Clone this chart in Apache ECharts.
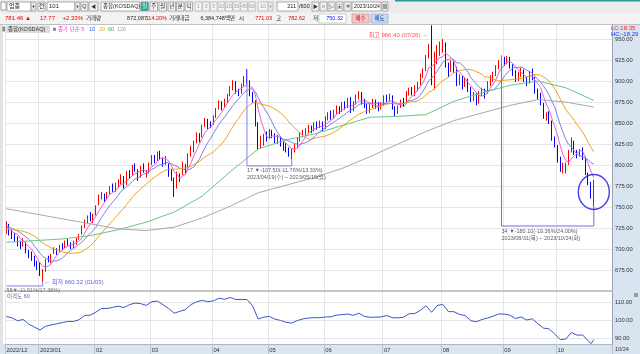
<!DOCTYPE html>
<html lang="ko">
<head>
<meta charset="utf-8">
<title>KOSDAQ</title>
<script src="https://cdn.jsdelivr.net/npm/echarts@6.0.0/dist/echarts.min.js"></script>
<style>
html,body{margin:0;padding:0;background:#ffffff;overflow:hidden;}
#chart{width:640px;height:354px;}
</style>
</head>
<body>
<div id="chart"></div>
<script>
// ---- trading days shown (211 candles) ----
const dec2022 = [14,15,16,19,20,21,22,23,26,27,28,29];
const jan2023 = [2,3,4,5,6,9,10,11,12,13,16,17,18,19,20,25,26,27,30,31];
const feb2023 = [1,2,3,6,7,8,9,10,13,14,15,16,17,20,21,22,23,24,27,28];
const mar2023 = [2,3,6,7,8,9,10,13,14,15,16,17,20,21,22,23,24,27,28,29,30,31];
const apr2023 = [3,4,5,6,7,10,11,12,13,14,17,18,19,20,21,24,25,26,27,28];
const may2023 = [2,3,4,8,9,10,11,12,15,16,17,18,19,22,23,24,25,26,30,31];
const jun2023 = [1,2,5,7,8,9,12,13,14,15,16,19,20,21,22,23,26,27,28,29,30];
const jul2023 = [3,4,5,6,7,10,11,12,13,14,17,18,19,20,21,24,25,26,27,28,31];
const aug2023 = [1,2,3,4,7,8,9,10,11,14,16,17,18,21,22,23,24,25,28,29,30,31];
const sep2023 = [1,4,5,6,7,8,11,12,13,14,15,18,19,20,21,22,25,26,27];
const oct2023 = [4,5,6,10,11,12,13,16,17,18,19,20,23,24];
const monthLabels = ['2022/12','2023/01','02','03','04','05','06','07','08','09','10'];
const lastDateLabel = '10/24';

// ---- OHLC ----
const open = [
721,728,719,716,713,706,706,708,697,694,690,682,
681,670,675,689,686,695,699,698,704,703,709,706,703,707,713,719,727,734,740,734,
742,753,763,763,761,767,774,771,776,780,784,777,790,789,799,793,786,798,790,793,
803,809,808,814,806,804,800,792,783,775,787,789,798,798,813,818,828,833,835,848,852,849,
850,858,868,873,870,879,884,893,897,889,888,896,906,899,884,875,848,827,828,836,
834,839,835,829,831,825,823,818,813,818,823,831,836,840,841,844,842,849,847,849,
845,857,862,859,864,867,866,873,871,878,867,875,882,884,876,870,866,871,875,872,869,
873,881,880,881,866,865,870,876,875,887,889,886,891,898,907,914,930,945,898,926,937,
940,943,918,916,920,915,899,903,896,900,890,880,882,876,886,888,886,898,903,909,917,923,
925,924,927,918,910,905,909,911,902,899,911,903,888,883,872,857,861,851,831,
820,806,795,796,803,818,826,813,813,817,808,789,777,771.03];
const close = [
730,720,717,713,706,705,711,698,693,692,682,679,
671.5,673.8,686,688,692,699,697,703,702,708,707,703,708,712,716,726,733,738,735,740,
749,762,765,760,766,773,772,776,779,786,775,791,788,798,797,784,797,795,791,800,
809,806,814,810,802,808,789,787,772,790,784,802,795,812,820,826,836,832,846,853,847,848,
857,866,875,869,877,882,891,898,888,886,894,904,900,885,878,850,824,830,834,833,
840,836,830,832,826,822,819,814,817,822,830,836,839,841,845,842,848,845,850,843,
855,860,858,863,868,865,872,870,877,866,873,881,885,876,872,865,870,876,871,868,872,
880,879,882,869,864,868,876,872,886,889,887,890,896,906,912,928,939,900,925,936,939,
945,920,914,921,916,898,905,895,902,892,879,883,875,885,889,883,898,904,908,916,922,926,
923,927,919,911,903,908,912,903,898,910,905,889,882,875,858,860,853,832,826,
808,796,799,798,815,828,815,812,816,810,791,779,763.69,781.46];
const low = [
718,716,712,709,703,700,703,695,689,686,679,675,
668,660.32,673,684,683,694,693,696,699,701,704,700,701,705,711,717,725,731,733,731,
740,752,759,756,759,765,768,768,773,777,772,776,784,787,792,781,785,791,785,790,
800,802,805,806,798,800,786,781,762,772,780,788,790,796,810,815,826,827,833,845,843,844,
848,856,866,865,868,874,882,889,885,882,885,894,896,882,874,846,818,820,823,828,
831,832,826,825,822,817,815,810,806.6,815,820,828,833,835,838,838,840,842,844,840,
843,853,854,855,861,861,863,866,868,862,864,872,878,872,868,861,862,868,867,864,866,
871,875,876,866,858,861,868,869,874,883,883,882,888,895,904,912,927,895,890,920,930,
934,916,905,911,910,894,895,890,893,887,875,876,871,873,882,879,885,894,899,906,914,919,
918,920,915,906,899,900,905,899,894,897,901,885,878,871,855,853,849,829,821,
803,792,790,790,800,815,812,808,810,806,788,776,760,750.32];
const high = [
733,730,723,719,715,710,713,709,699,697,692,686,
684,676,688,692,694,702,701,705,707,710,712,708,710,714,718,728,735,740,744,742,
752,765,768,766,768,775,778,779,783,789,787,793,794,800,802,795,799,802,794,803,
812,812,816,817,809,811,802,795,785,792,790,804,801,814,823,829,839,838,848,856,855,852,
859,868,877,876,879,885,894,901,900,891,897,906,914.1,901,887,877,851,835,837,840,
843,842,838,836,834,828,826,821,820,825,833,839,842,844,848,847,851,852,853,852,
858,863,865,866,871,870,875,876,880,881,876,884,888,887,879,873,873,879,878,875,875,
883,884,885,883,870,871,878,880,888,892,893,895,899,909,915,931,944,966.4,935,943,947,
950,946,922,925,924,917,908,906,905,903,893,887,886,888,892,891,900,907,911,919,925,930.42,
929,930,929,920,913,911,916,914,905,912,915,905,891,886,874,863,864,853,834,
824,810,803,803,818,833,829,818,819,821,810,791,780,782.62];

// ---- moving-average lines (one value per candle) ----
const ma5 = [
727,724,721,719,717.2,712.2,710.4,706.6,702.6,699.8,
695.2,688.8,683.5,679.7,678.5,679.7,682.3,687.8,692.4,695.8,
698.6,701.8,703.4,704.6,705.6,707.6,709.2,713,719,725,
729.6,734.4,739,744.8,750.2,755.2,760.4,765.2,767.2,769.4,
773.2,777.2,777.6,781.4,783.8,787.6,789.8,791.6,792.8,794.2,
792.8,793.4,798.4,800.2,804,807.8,808.2,808,804.6,799.2,
791.6,789.2,784.4,787,788.6,796.6,802.6,811,817.8,825.2,
832,838.6,842.8,845.2,850.2,854.2,858.6,863,868.8,873.8,
878.8,883.4,887.2,889,891.4,894,894.4,893.8,892.2,883.4,
867.4,853.4,843.2,834.2,832.2,834.6,834.6,834.2,832.8,829.2,
825.8,822.6,819.6,818.8,820.4,823.8,828.8,833.6,838.2,840.6,
843,844.2,846,845.6,848.2,850.6,853.2,855.8,860.8,862.8,
865.2,867.6,870.4,870,871.6,873.4,876.4,876.2,877.4,875.8,
873.6,871.8,870.8,870,871.4,873.4,874,876.2,876.4,874.8,
872.4,871.8,869.8,873.2,878.2,882,884.8,889.6,893.6,898.2,
906.4,916.2,917,920.8,925.6,927.8,929,933,930.8,927.8,
923.2,913.8,910.8,907,903.2,898.4,894.6,890.2,886.2,882.8,
882.2,883,886,891.8,896.4,901.8,909.6,915.2,919,922.8,
923.4,921.2,916.6,913.6,910.6,907.4,904.8,906.2,905.6,901,
896.8,892.2,881.8,872.8,865.6,855.6,845.8,835.8,823,812.2,
805.4,803.2,807.2,811,813.6,817.2,816.2,808.8,801.6,791.9,785];
const ma10 = [
727,726,724.5,723,721.5,719.5,717,714.5,711.5,708.5,
703.7,699.6,695.1,691.2,689.2,687.5,685.6,685.7,686.1,687.2,
689.2,692.1,695.6,698.5,700.7,703.1,705.5,708.2,711.8,715.3,
718.6,721.8,726,731.9,737.6,742.4,747.4,752.1,756,759.8,
764.2,768.8,771.4,774.3,776.6,780.4,783.5,784.6,787.1,789,
790.2,791.6,795,796.5,799.1,800.3,800.8,803.2,802.4,801.6,
799.7,798.7,796.2,795.8,793.9,794.1,795.9,797.7,802.4,806.9,
814.3,820.6,826.9,831.5,837.7,843.1,848.6,852.9,857,862,
866.5,871,875.1,878.9,882.6,886.4,888.9,890.5,890.6,887.4,
880.7,873.9,868.5,863.2,857.8,851,844,838.7,833.5,830.7,
830.2,828.6,826.9,825.8,824.8,824.8,825.7,826.6,828.5,830.5,
833.4,836.5,839.8,841.9,844.4,846.8,848.7,850.9,853.2,855.5,
857.9,860.4,863.1,865.4,867.2,869.3,872,873.3,873.7,873.7,
873.5,874.1,873.5,873.7,873.6,873.5,872.9,873.5,873.2,873.1,
872.9,872.9,873,874.8,876.5,877.2,878.3,879.7,883.4,888.2,
894.2,900.5,903.3,907.2,911.9,917.1,922.6,925,925.8,926.7,
925.5,921.4,921.9,918.9,915.5,910.8,904.2,900.5,896.6,893,
890.3,888.8,888.1,889,889.6,892,896.3,900.6,905.4,909.6,
912.6,915.4,915.9,916.3,916.7,915.4,913,911.4,909.6,905.8,
902.1,898.5,894,889.2,883.3,876.2,869,858.8,847.9,838.9,
830.5,824.5,821.5,817,812.9,811.3,809.7,808,806.3,802.8,801.1];
const ma20 = [
724,723.6,723.2,722.8,722.4,722,721,720,718.8,717.3,
715.4,712.8,709.8,707.1,705.4,703.5,701.3,700.1,698.8,697.9,
696.5,695.9,695.4,694.9,695,695.3,695.6,697,699,701.3,
703.9,707,710.8,715.2,719.2,722.8,726.5,730.2,733.9,737.6,
741.4,745.3,748.7,753.1,757.1,761.4,765.5,768.4,771.6,774.4,
777.2,780.2,783.2,785.4,787.9,790.4,792.2,793.9,794.8,795.3,
795,795.2,795.6,796.2,796.5,797.2,798.4,800.5,802.4,804.3,
807,809.7,811.6,813.7,815.8,818.6,822.3,825.3,829.7,834.5,
840.4,845.8,851,855.2,860.2,864.8,868.8,871.7,873.8,874.7,
873.6,872.5,871.8,871.1,870.2,868.7,866.5,864.6,862.1,859.1,
855.5,851.3,847.7,844.5,841.3,837.9,834.9,832.7,831,830.6,
831.8,832.6,833.4,833.9,834.6,835.8,837.2,838.8,840.9,843,
845.7,848.5,851.5,853.7,855.8,858.1,860.4,862.1,863.5,864.6,
865.7,867.3,868.3,869.6,870.4,871.4,872.5,873.4,873.5,873.4,
873.2,873.5,873.3,874.3,875.1,875.4,875.6,876.6,878.3,880.7,
883.6,886.7,888.2,891,894.2,897.2,900.5,902.4,904.6,907.5,
909.9,911,912.6,913.1,913.7,914,913.4,912.8,911.2,909.9,
907.9,905.1,905,904,902.6,901.4,900.3,900.6,901,901.3,
901.5,902.1,902,902.7,903.2,903.7,904.7,906,907.5,907.7,
907.4,907,905,902.8,900,895.8,891,885.1,878.8,872.4,
866.3,861.5,857.8,853.1,848.1,843.8,839.4,833.4,827.1,820.9,815.8];
// slower averages, read at intervals: [candle index, value]
const ma60 = [[0,708],[10,710],[20,712],[30,716],[40,723],[50,732],[60,744],[70,763],[80,792],[90,819],[100,830],[110,837],[120,847],[130,857],[140,858],[150,860],[160,876],[170,886],[180,895],[190,900],[200,892],[210,877]];
const ma120 = [[0,748],[10,742],[20,736],[30,730],[40,724],[50,722],[60,726],[70,737],[80,751],[90,767],[100,776],[110,785],[120,796],[130,810],[140,825],[150,840],[160,853],[170,862],[180,871],[190,878],[200,875],[210,869]];
// ---- 이격도 60 (disparity), read every other candle ----
const disparity60 = [[0,102],[2,101.2],[4,99.6],[6,100.3],[8,97.7],[10,96.1],[12,94.5],[14,96.5],[16,97.3],[18,97.9],[20,98.6],[22,99.2],[24,99.2],[26,100.2],[28,102.5],[30,102.7],[32,104.4],[34,106.4],[36,106.4],[38,107],[40,107.7],[42,106.9],[44,108.5],[46,109.4],[48,109.1],[50,108.1],[52,110.2],[54,110.5],[56,108.5],[58,106.4],[60,103.8],[62,104.8],[64,105.8],[66,108.6],[68,110.1],[70,110.9],[72,110.2],[74,110.6],[76,112.1],[78,111.5],[80,112.5],[82,111.4],[84,111.4],[86,111.4],[88,107.9],[90,100.6],[92,101.6],[94,102],[96,100.5],[98,99.8],[100,98.7],[102,98.3],[104,99.7],[106,100.6],[108,101.1],[110,101.3],[112,101.3],[114,101.7],[116,101.8],[118,102.7],[120,103],[122,103.3],[124,102.6],[126,103.8],[128,102],[130,101.5],[132,101.6],[134,101.7],[136,102.5],[138,101.3],[140,101.2],[142,101.6],[144,103.5],[146,103.6],[148,105.4],[150,107.9],[152,104.3],[154,108],[156,108.7],[158,104.7],[160,104.6],[162,103.1],[164,102.5],[166,99.7],[168,99],[170,100.3],[172,101.1],[174,102.1],[176,103.4],[178,103.3],[180,102.7],[182,100.8],[184,101.7],[186,100],[188,100.7],[190,98],[192,95.5],[194,95.1],[196,92.3],[198,89.1],[200,89.5],[202,93.1],[204,91.6],[206,91.7],[208,88.5],[209,86.9],[210,89.1]];

// ---- measurement brackets ----
const bracket0 = [[0,656],[13,656],[13,660.32]];
const bracket1 = [[86,914.1],[86,799],[102,799],[102,806.6]];
const bracket2 = [[177,930.42],[177,727.4],[210,727.4],[210,750.32]];
const bracketText0 = '58▼-11.51%/17.36%)';
const bracketText1 = '17 ▼-107.50(-11.76%/13.33%)\n2023/04/19(수) ~ 2023/05/15(월)';
const bracketText2 = '34 ▼-180.10(-19.36%/24.00%)\n2023/08/31(목) ~ 2023/10/24(화)';
const highMark = [152, 966.4];
const lowMark = [13, 660.32];
const circleMark = [210, 768];
const lastClose = 781.46;

// ---- build categories ----
const monthDays = [['2022-12',dec2022],['2023-01',jan2023],['2023-02',feb2023],['2023-03',mar2023],['2023-04',apr2023],['2023-05',may2023],['2023-06',jun2023],['2023-07',jul2023],['2023-08',aug2023],['2023-09',sep2023],['2023-10',oct2023]];
const dates = []; const monthStart = {};
monthDays.forEach(function(md, mi){ monthStart[dates.length] = monthLabels[mi]; md[1].forEach(function(d){ dates.push(md[0]+'-'+(d<10?'0':'')+d); }); });
const cats = dates.concat(['p1','p2','p3','p4','p5','p6']);
const candles = open.map(function(o,i){ return [o, close[i], low[i], high[i]]; });
const isMonth = function(i){ return monthStart.hasOwnProperty(i); };

const FONT = '"Liberation Sans","Noto Sans CJK KR",sans-serif';
const G = [];
function R(x,y,w,h,fill,stroke,z){ G.push({type:'rect',silent:true,z:(z===undefined?50:z),shape:{x:x,y:y,width:w,height:h},style:{fill:fill,stroke:stroke||null,lineWidth:stroke?0.8:0}}); }
function T(x,y,text,fill,align,size,z){ G.push({type:'text',silent:true,z:(z===undefined?60:z),x:x,y:y,style:{text:text,fill:fill,font:(size||6)+'px '+FONT,align:align||'left',verticalAlign:'middle'}}); }

// backgrounds
R(612,24,28,330,'#d9e4f1',null,-10);
R(0,344,612,10,'#dbe5f0',null,-10);
R(0,24,3,320,'#e2e2e2',null,-10);
// header row 1
R(0,0,640,13,'#ececec');
R(395,0,245,1.5,'#2b9a9a');
R(1,2,5,8,'#ffffff','#888888');
R(7,2,24,9,'#ffffff','#9a9a9a'); T(9,6.6,'업종','#222');
R(31,2,5,9,'#e6e6e6','#9a9a9a'); T(33.5,6.6,'▼','#333','center',4);
R(38,2,7,9,'#f8f8f8','#9a9a9a'); T(41.5,6.6,'전','#222','center');
R(47,2,28,9,'#ffffff','#9a9a9a'); T(49,6.6,'101','#222');
R(75,2,5,9,'#e6e6e6','#9a9a9a'); T(77.5,6.6,'▼','#333','center',4);
R(81,2,7,9,'#f0f0f0','#9a9a9a'); T(84.5,6.6,'Q','#333','center',5.5);
R(89,2,9,9,'#f0f0f0','#9a9a9a'); T(93.5,6.6,'◀','#333','center',5);
R(101,2,39,9,'#ffffff','#9a9a9a'); T(103,6.6,'종합(KOSDAQ)','#222','left',5.5);
[['일',141],['주',150],['월',159],['년',168],['분',176.5],['틱',185]].forEach(function(b,i){
  R(b[1],2,7.5,9,i===0?'#1fa89a':'#f6f6f6','#9a9a9a'); T(b[1]+3.75,6.6,b[0],i===0?'#ffffff':'#222','center',5.5);
});
['1','3','5','10','15','30','45','60'].forEach(function(s,i){ var x=195+i*7.6; R(x,2,7,9,'#f4f4f4','#b8b8b8'); T(x+3.5,6.6,s,'#9a9a9a','center',5); });
R(258,2,10,9,'#f4f4f4','#b8b8b8'); T(263,6.6,'10','#9a9a9a','center',5);
R(268,2,5,9,'#e6e6e6','#b8b8b8'); T(270.5,6.6,'▼','#999','center',4);
R(277,2,21,9,'#ffffff','#9a9a9a'); T(296,6.6,'211','#222','right',5.5); T(299,6.6,'/600','#222','left',5.5);
R(312,2,7,9,'#f0f0f0','#9a9a9a'); T(315.5,6.6,'▶','#333','center',5);
R(320,2,7,9,'#f0f0f0','#9a9a9a'); T(323.5,6.6,'⌕','#333','center',6);
R(328,2,7,9,'#f0f0f0','#9a9a9a'); T(331.5,6.6,'✂','#333','center',5);
R(336,2,7,9,'#f0f0f0','#9a9a9a'); T(339.5,6.6,'▣','#333','center',5);
R(344,2,7,9,'#f0f0f0','#9a9a9a'); T(347.5,6.6,'✲','#333','center',5);
R(352,2,29,9,'#ffffff','#9a9a9a'); T(354,6.6,'2023/10/24','#222','left',5.2);
R(382,2,6,9,'#f0f0f0','#9a9a9a'); T(385,6.6,'▦','#333','center',5);
// header row 2
R(0,13,640,11,'#f3f3f3');
T(5,18.6,'781.46 ▲','#e00000','left',6);
T(55,18.6,'17.77','#e00000','right',6);
T(83,18.6,'+2.33%','#e00000','right',6);
T(86,18.6,'거래량','#222','left',5.5);
T(147,18.6,'872,087','#222','right',5.5);
T(167,18.6,'114.20%','#e00000','right',5.5);
T(169,18.6,'거래대금','#222','left',5.5);
T(235,18.6,'6,384,748백만','#222','right',5.5);
T(239,18.6,'시','#222','left',5.5);
T(272,18.6,'771.03','#e00000','right',5.5);
T(276,18.6,'고','#222','left',5.5);
T(305,18.6,'782.62','#e00000','right',5.5);
T(313,18.6,'저','#222','left',5.5);
R(319,14,27,9,'#ffffff','#c4c4c4'); T(343,18.6,'750.32','#1020e0','right',5.5);
R(352,14,17,9,'#f5c6c6','#d49a9a'); T(360.5,18.6,'매수','#b00000','center',5.5);
R(371,14,17,9,'#c8dbf3','#93acd2'); T(379.5,18.6,'매도','#0a2a9a','center',5.5);
R(0,24,640,0.8,'#b4b4b4');
// legend row
R(2.5,26.5,2.5,5,'#8a8a8a');
R(6,25.5,44,7.5,'#dcdcdc');
T(8,29.4,'종합(KOSDAQ)','#333','left',5.5);
R(53,27.8,3,3,'#8a8a8a');
T(58,29.4,'종가 단순 5','#e040e0','left',5.5);
T(89,29.4,'10','#3f5cff','left',5.5);
T(99,29.4,'20','#e0b000','left',5.5);
T(108,29.4,'60','#2fae3f','left',5.5);
T(117,29.4,'120','#a0a0a0','left',5.5);
// right panel texts
T(611,28.5,'LC:18.35','#ff2020','left',6);
T(611,34.5,'HC:-18.29','#2030ff','left',6);
T(7,296.5,'이격도 60','#5a6aa0','left',5.5);
R(634,293,4,4,'#9a9a9a',null,5);
T(615,349.3,lastDateLabel,'#333','left',5.5);

const axisFont = {fontSize:5.8, color:'#333', fontFamily:FONT};

const option = {
  animation:false,
  backgroundColor:'#ffffff',
  textStyle:{fontFamily:FONT},
  graphic:G,
  grid:[
    {left:5,right:28,top:24,height:267,containLabel:false,outerBoundsMode:'none'},
    {left:5,right:28,top:291,height:53,containLabel:false,outerBoundsMode:'none'}
  ],
  xAxis:[
    {type:'category',gridIndex:0,data:cats,boundaryGap:true,
     axisLine:{show:true,onZero:false,lineStyle:{color:'#c4c4c4',width:2}},axisTick:{show:false},axisLabel:{show:false},
     splitLine:{show:true,interval:function(i){return isMonth(i);},lineStyle:{color:'#e6e6e6',width:1}}},
    {type:'category',gridIndex:1,data:cats,boundaryGap:true,
     axisLine:{show:true,onZero:false,lineStyle:{color:'#a9b6c6',width:1}},
     axisTick:{show:true,interval:function(i){return isMonth(i);},length:10,lineStyle:{color:'#b7c2d0'}},
     axisLabel:{show:true,interval:function(i){return isMonth(i);},formatter:function(v,i){return monthStart[i]||'';},align:'left',margin:3,fontSize:5.8,color:'#333',fontFamily:FONT},
     splitLine:{show:true,interval:function(i){return isMonth(i);},lineStyle:{color:'#e6e6e6',width:1}}}
  ],
  yAxis:[
    {type:'value',gridIndex:0,position:'right',min:650,max:968,interval:25,
     axisLine:{show:true,lineStyle:{color:'#9aa4b0'}},axisTick:{show:false},
     axisLabel:Object.assign({formatter:function(v){return v.toFixed(2);},margin:3,showMinLabel:false,showMaxLabel:false},axisFont),
     splitLine:{show:true,lineStyle:{color:'#e6e6e6',width:1}}},
    {type:'value',gridIndex:1,position:'right',min:86.7,max:116.1,splitNumber:3,
     axisLine:{show:true,lineStyle:{color:'#9aa4b0'}},axisTick:{show:false},
     axisLabel:Object.assign({formatter:function(v){return v.toFixed(2);},margin:3,showMinLabel:false,showMaxLabel:false},axisFont),
     splitLine:{show:true,lineStyle:{color:'#e6e6e6',width:1}}}
  ],
  series:[
    {type:'candlestick',name:'종합(KOSDAQ)',xAxisIndex:0,yAxisIndex:0,data:candles,barWidth:1.2,
     itemStyle:{color:'#ff0000',color0:'#0000ff',borderColor:'#ff0000',borderColor0:'#0000ff',borderWidth:1},
     markLine:{silent:true,symbol:'none',lineStyle:{opacity:0},
       data:[{yAxis:lastClose,label:{show:true,position:'end',distance:1,formatter:'781.46',color:'#ffffff',backgroundColor:'#ff0000',padding:[1,6,0,2],fontSize:6,fontFamily:FONT}},
             {yAxis:lastClose,label:{show:true,position:'end',distance:1,offset:[0,7],formatter:'2.33%',color:'#ff0000',fontSize:6,fontFamily:FONT}}]}},
    {type:'line',name:'5',xAxisIndex:0,yAxisIndex:0,data:ma5,showSymbol:false,lineStyle:{color:'#e85fd8',width:1},z:3},
    {type:'line',name:'10',xAxisIndex:0,yAxisIndex:0,data:ma10,showSymbol:false,lineStyle:{color:'#7783e6',width:1},z:3},
    {type:'line',name:'20',xAxisIndex:0,yAxisIndex:0,data:ma20,showSymbol:false,lineStyle:{color:'#f0a21a',width:1},z:3},
    {type:'line',name:'60',xAxisIndex:0,yAxisIndex:0,data:ma60,showSymbol:false,lineStyle:{color:'#6cc486',width:1},z:3},
    {type:'line',name:'120',xAxisIndex:0,yAxisIndex:0,data:ma120,showSymbol:false,lineStyle:{color:'#a9a9a9',width:1},z:3},
    {type:'line',name:'b0',xAxisIndex:0,yAxisIndex:0,data:bracket0,showSymbol:false,lineStyle:{color:'#8080f0',width:1},z:4},
    {type:'line',name:'b1',xAxisIndex:0,yAxisIndex:0,data:bracket1,showSymbol:false,lineStyle:{color:'#8080f0',width:1},z:4},
    {type:'line',name:'b2',xAxisIndex:0,yAxisIndex:0,data:bracket2,showSymbol:false,lineStyle:{color:'#6e6ee8',width:1},z:4},
    {type:'scatter',name:'notes',xAxisIndex:0,yAxisIndex:0,symbolSize:1,itemStyle:{color:'rgba(0,0,0,0)'},z:6,
     data:[
       {value:bracket0[0],label:{show:true,position:'bottom',distance:1,align:'left',formatter:bracketText0,color:'#555',fontSize:5.5,fontFamily:FONT}},
       {value:bracket1[1],label:{show:true,position:'bottom',distance:1,align:'left',formatter:bracketText1,color:'#333',fontSize:5.5,lineHeight:7,fontFamily:FONT}},
       {value:bracket2[1],label:{show:true,position:'bottom',distance:1,align:'left',formatter:bracketText2,color:'#333',fontSize:5.5,lineHeight:7,fontFamily:FONT}},
       {value:highMark,label:{show:true,position:'left',distance:3,offset:[0,10],formatter:'최고 966.40 (07/26) →',color:'#ff2020',fontSize:6,fontFamily:FONT}},
       {value:lowMark,label:{show:true,position:'right',distance:1,formatter:'← 최저 660.32 (01/03)',color:'#2a3ad8',fontSize:6,fontFamily:FONT}}
     ]},
    {type:'scatter',name:'circle',xAxisIndex:0,yAxisIndex:0,data:[circleMark],symbol:'circle',symbolSize:[31,35],
     itemStyle:{color:'rgba(0,0,0,0)',borderColor:'#1414f0',borderWidth:1.5},z:7},
    {type:'line',name:'이격도 60',xAxisIndex:1,yAxisIndex:1,data:disparity60,showSymbol:false,lineStyle:{color:'#3d55c8',width:1}}
  ]
};
const chart = echarts.init(document.getElementById('chart'), null, {renderer:'canvas'});
chart.setOption(option);
</script>
</body>
</html>
